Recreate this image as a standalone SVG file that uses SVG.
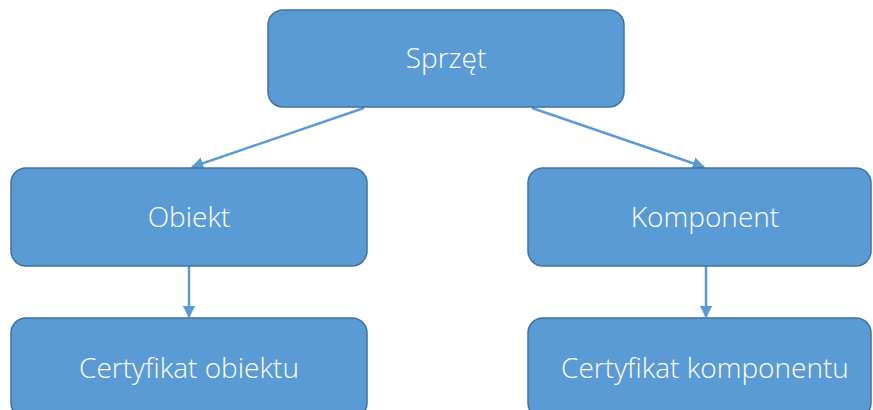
<svg xmlns="http://www.w3.org/2000/svg" width="873" height="410" viewBox="0 0 873 410">
<style>
.box{fill:#5B9BD5;stroke:#41719C;stroke-width:1.5}
.lbl{font-family:"Open Sans","Liberation Sans",sans-serif;font-size:28px;fill:#FFFFFF;text-anchor:middle;font-weight:300}
.conn{stroke:#5B9BD5;stroke-width:2.5;fill:none}
</style>
<defs>
<marker id="ah" viewBox="0 0 10 10" refX="9" refY="5" markerWidth="5" markerHeight="5" orient="auto" markerUnits="strokeWidth">
<path d="M0,0 L10,5 L0,10 z" fill="#5B9BD5"/>
</marker>
</defs>
<rect width="873" height="410" fill="#FFFFFF"/>
<g id="connectors">
<line class="conn" x1="364" y1="108" x2="192" y2="167" marker-end="url(#ah)"/>
<line class="conn" x1="532" y1="108" x2="704" y2="167" marker-end="url(#ah)"/>
<line class="conn" x1="189" y1="266" x2="189" y2="317" marker-end="url(#ah)"/>
<line class="conn" x1="706" y1="266" x2="706" y2="317" marker-end="url(#ah)"/>
</g>
<g id="node-sprzet">
<rect class="box" x="268" y="10" width="356" height="97" rx="15"/>
<text class="lbl" x="446" y="68">Sprzęt</text>
</g>
<g id="node-obiekt">
<rect class="box" x="11" y="168" width="356" height="98" rx="15"/>
<text class="lbl" x="189" y="227">Obiekt</text>
</g>
<g id="node-komponent">
<rect class="box" x="528" y="168" width="343" height="98" rx="15"/>
<text class="lbl" x="705" y="227">Komponent</text>
</g>
<g id="node-cert-obiektu">
<rect class="box" x="11" y="318" width="356" height="100" rx="15"/>
<text class="lbl" x="189" y="378">Certyfikat obiektu</text>
</g>
<g id="node-cert-komponentu">
<rect class="box" x="528" y="318" width="343" height="100" rx="15"/>
<text class="lbl" x="705" y="378">Certyfikat komponentu</text>
</g>
</svg>
